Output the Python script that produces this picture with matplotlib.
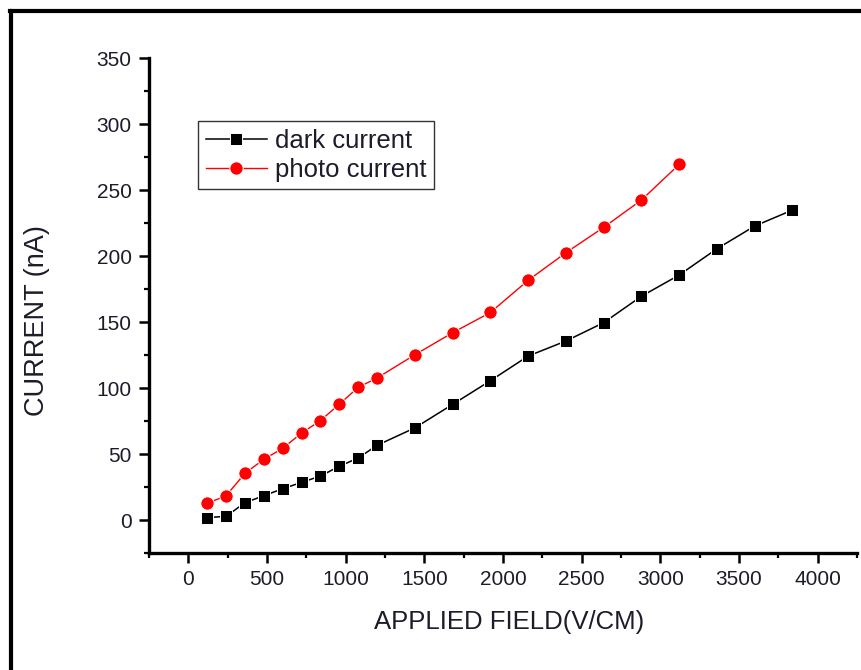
import matplotlib
matplotlib.use("Agg")
import matplotlib.pyplot as plt
from matplotlib.lines import Line2D
from matplotlib.ticker import MultipleLocator

field_dark = [120, 240, 360, 480, 600, 720, 840, 960, 1080, 1200,
              1440, 1680, 1920, 2160, 2400, 2640, 2880, 3120, 3360, 3600, 3840]
dark_current = [1.8, 2.8, 13.1, 18.4, 23.7, 28.5, 33.3, 40.7, 47.0, 56.6,
                69.8, 87.6, 105.5, 124.2, 135.6, 149.5, 169.5, 185.6, 205.5, 222.7, 234.8]

field_photo = [120, 240, 360, 480, 600, 720, 840, 960, 1080, 1200,
               1440, 1680, 1920, 2160, 2400, 2640, 2880, 3120]
photo_current = [12.6, 18.4, 35.4, 46.0, 54.3, 65.9, 75.3, 87.8, 100.5, 107.6,
                 125.2, 141.9, 157.2, 181.6, 202.5, 221.7, 242.4, 269.4]

x_ticks = [0, 500, 1000, 1500, 2000, 2500, 3000, 3500, 4000]
y_ticks = [0, 50, 100, 150, 200, 250, 300, 350]

plt.rcParams["font.family"] = ["Liberation Sans", "DejaVu Sans"]
txt_color = "#1c1c2a"

fig = plt.figure(figsize=(8.61, 6.70), dpi=100)
ax = fig.add_axes([149 / 861, 1 - 553 / 670, 708 / 861, 495 / 670])

ax.plot(field_dark, dark_current, color="black", lw=1.1, marker="s", ms=8.8,
        mfc="black", mec="white", mew=0.7, label="dark current")
ax.plot(field_photo, photo_current, color="red", lw=1.0, marker="o", ms=9.6,
        mfc="red", mec="white", mew=0.7, label="photo current")

ax.set_xlim(-250, 4250)
ax.set_ylim(-25, 350)
ax.set_xticks(x_ticks)
ax.set_yticks(y_ticks)
ax.xaxis.set_minor_locator(MultipleLocator(250))
ax.yaxis.set_minor_locator(MultipleLocator(25))

for side in ("top", "right"):
    ax.spines[side].set_visible(False)
for side in ("left", "bottom"):
    ax.spines[side].set_linewidth(2.4)

ax.tick_params(which="major", direction="out", length=7.5, width=1.8,
               labelsize=15, labelcolor=txt_color, pad=5)
ax.tick_params(which="minor", direction="out", length=3.8, width=1.6)

ax.set_xlabel("APPLIED FIELD(V/CM)", fontsize=18.5, color=txt_color)
ax.set_ylabel("CURRENT (nA)", fontsize=19.5, color=txt_color)
ax.xaxis.set_label_coords(0.508, -0.115)
ax.yaxis.set_label_coords(-0.14, 0.47)

leg = ax.legend(loc="upper left", bbox_to_anchor=(0.069, 0.873), borderaxespad=0,
                fontsize=18.5, frameon=True, fancybox=False, shadow=False,
                handlelength=2.4, handletextpad=0.3, labelspacing=0.2,
                borderpad=0.3)
leg.get_frame().set_edgecolor("black")
leg.get_frame().set_linewidth(1.0)
for t in leg.get_texts():
    t.set_color(txt_color)

# outer frame of the original figure (top and left edges visible)
fig.add_artist(Line2D([11 / 861, 11 / 861], [0, 1 - 11 / 670],
                      color="black", lw=3.0, transform=fig.transFigure))
fig.add_artist(Line2D([9.5 / 861, 1], [1 - 11 / 670, 1 - 11 / 670],
                      color="black", lw=3.0, transform=fig.transFigure))

fig.savefig("out.png", dpi=100)
